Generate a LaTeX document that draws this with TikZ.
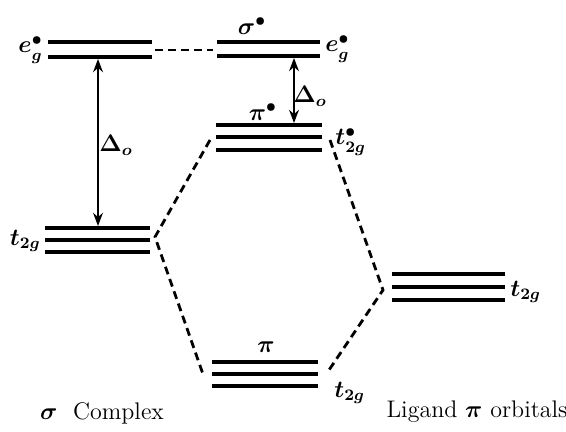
\documentclass[tikz,border=0pt]{standalone}
\usepackage{amsmath}
\usepackage{tikz}
\usetikzlibrary{arrows.meta, positioning}

\begin{document}
\begin{tikzpicture}[x=0.5pt, y=-0.5pt, >=Stealth,
    every node/.style={font=\small},
    level/.style={line width=1.7pt},
    link/.style={line width=1.4pt, dash pattern=on 4pt off 2.5pt},
    gap/.style={<->, line width=0.8pt, shorten <=0.5pt, shorten >=0.5pt},
    lbl/.style={inner sep=1pt, font=\large\boldmath},
]
\useasboundingbox (0,0) rectangle (566,432);

% Levels of the sigma complex
\draw[level] (48,42) -- (152,42);
\draw[level] (48,57) -- (152,57) coordinate (egL);
\draw[level] (45,228) -- (150,228);
\draw[level] (45,240) -- (150,240);
\draw[level] (45,252) -- (150,252);
\coordinate (t2gL) at (155,237);

% Levels of the pi complex
\draw[level] (217,42) -- (320,42);
\draw[level] (217,56) -- (320,56);
\coordinate (sigL) at (213,50);
\draw[level] (216,125) -- (322,125);
\draw[level] (216,137) -- (322,137);
\draw[level] (216,150) -- (322,150);
\coordinate (pstarL) at (210,140);
\coordinate (pstarR) at (330,140);
\draw[level] (212,362) -- (318,362);
\draw[level] (212,374) -- (318,374);
\draw[level] (212,386) -- (318,386);
\coordinate (piL) at (204,377);
\coordinate (piR) at (327,373);

% Ligand levels
\draw[level] (392,274) -- (505,274);
\draw[level] (392,287) -- (505,287);
\draw[level] (392,300) -- (505,300);
\coordinate (ligL) at (383,290);

% Labels
\node[lbl, left] (egstarL) at (45,50) {$e_g^{\bullet}$};
\node[lbl, left] (t2gLbl) at (43,241) {$t_{2g}$};
\node[lbl] (sigstar) at (252,26) {$\sigma^{\bullet}$};
\node[lbl, right] (egstarR) at (323,49) {$e_g^{\bullet}$};
\node[lbl] (pistar) at (263,112) {$\pi^{\bullet}$};
\node[lbl, right] (t2gstar) at (333,142) {$t_{2g}^{\bullet}$};
\node[lbl] (pilbl) at (266,347) {$\pi$};
\node[lbl, right] (t2gpi) at (332,393) {$t_{2g}$};
\node[lbl, right] (t2glig) at (508,292) {$t_{2g}$};
\node[lbl] (dL) at (116,145) {$\Delta_o$};
\node[lbl] (dR) at (310,96) {$\Delta_o$};
\node[font=\large] (sigcx) at (102,413) {$\boldsymbol{\sigma}$\ \ Complex};
\node[font=\large] (ligorb) at (477,412) {Ligand $\boldsymbol{\pi}$ orbitals};

% Splittings
\draw[gap] (98,58) -- (98,227);
\draw[gap] (294,57) -- (294,124);

% Correlation lines
\draw[link] (155,50) -- (sigL);
\draw[link] (pstarL) -- (t2gL) -- (piL);
\draw[link] (pstarR) -- (ligL) -- (piR);

\end{tikzpicture}
\end{document}
